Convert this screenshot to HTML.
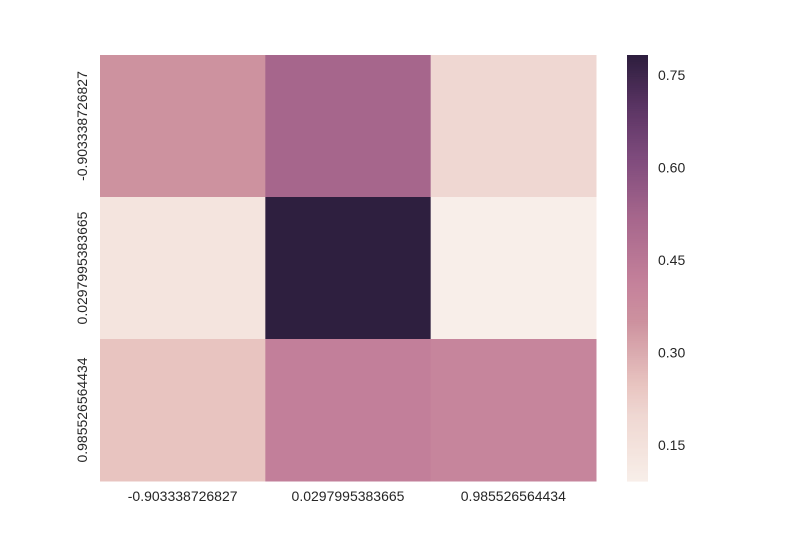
<!DOCTYPE html>
<html><head><meta charset="utf-8"><style>
body{margin:0;background:#fff;font-family:"Liberation Sans",sans-serif;}
svg text{font-family:"Liberation Sans",sans-serif;font-size:14px;fill:#262626;}
</style></head><body>
<svg id="chart" width="800" height="550"></svg>
<script>
const rowLabels = ["-0.903338726827","0.0297995383665","0.985526564434"];
const colLabels = ["-0.903338726827","0.0297995383665","0.985526564434"];
const values = [
  [0.35, 0.52, 0.20],
  [0.14, 0.78, 0.095],
  [0.25, 0.42, 0.40]
];
const cbTicks = [0.15, 0.30, 0.45, 0.60, 0.75];
const vmin = 0.092, vmax = 0.782;
const stops = [[0.09,"#f8efea"],[0.14,"#f4e4de"],[0.2,"#efd7d2"],[0.25,"#e8c4c0"],[0.35,"#cd929f"],[0.41,"#c5829b"],[0.52,"#a6668c"],[0.62,"#7d4a7c"],[0.7,"#5a3463"],[0.782,"#2d1e3e"]];
function hex(h){return [1,3,5].map(i=>parseInt(h.substr(i,2),16));}
function cmap(v){
  if(v<=stops[0][0])return stops[0][1];
  for(let i=1;i<stops.length;i++){if(v<=stops[i][0]){const a=hex(stops[i-1][1]),b=hex(stops[i][1]);const t=(v-stops[i-1][0])/(stops[i][0]-stops[i-1][0]);return "rgb("+a.map((x,k)=>Math.round(x+(b[k]-x)*t)).join(",")+")";}}
  return stops[stops.length-1][1];
}
const svg=document.getElementById('chart');const NS="http://www.w3.org/2000/svg";
function mk(t,a){const e=document.createElementNS(NS,t);for(const k in a)e.setAttribute(k,a[k]);svg.appendChild(e);return e;}
const X0=100,X1=596,Y0=55,Y1=481;
const cw=(X1-X0)/colLabels.length, ch=(Y1-Y0)/rowLabels.length;
const xs=j=>X0+j*cw, ys=i=>Y0+i*ch;
values.forEach((row,i)=>row.forEach((v,j)=>{
  const r=mk('rect',{x:xs(j),y:ys(i),width:cw+0.5,height:ch+0.5,fill:cmap(v)});
  
  
}));
colLabels.forEach((l,j)=>{const t=mk('text',{x:xs(j)+cw/2,y:501,'text-anchor':'middle'});t.textContent=l;
  });
rowLabels.forEach((l,i)=>{const cy=ys(i)+ch/2;const t=mk('text',{x:0,y:0,'text-anchor':'middle',transform:`translate(87,${cy}) rotate(-90)`});t.textContent=l;
  });
const CX=627,CW=21;
const cy=v=>Y1-(v-vmin)/(vmax-vmin)*(Y1-Y0);
for(let k=0;k<200;k++){const v0=vmin+(vmax-vmin)*k/200,v1=vmin+(vmax-vmin)*(k+1)/200;
  const r=mk('rect',{x:CX,y:cy(v1),width:CW,height:cy(v0)-cy(v1)+0.6,fill:cmap((v0+v1)/2)});
  }
cbTicks.forEach(v=>{const t=mk('text',{x:658,y:cy(v)+5});t.textContent=v.toFixed(2);
  });
</script>
</body></html>
